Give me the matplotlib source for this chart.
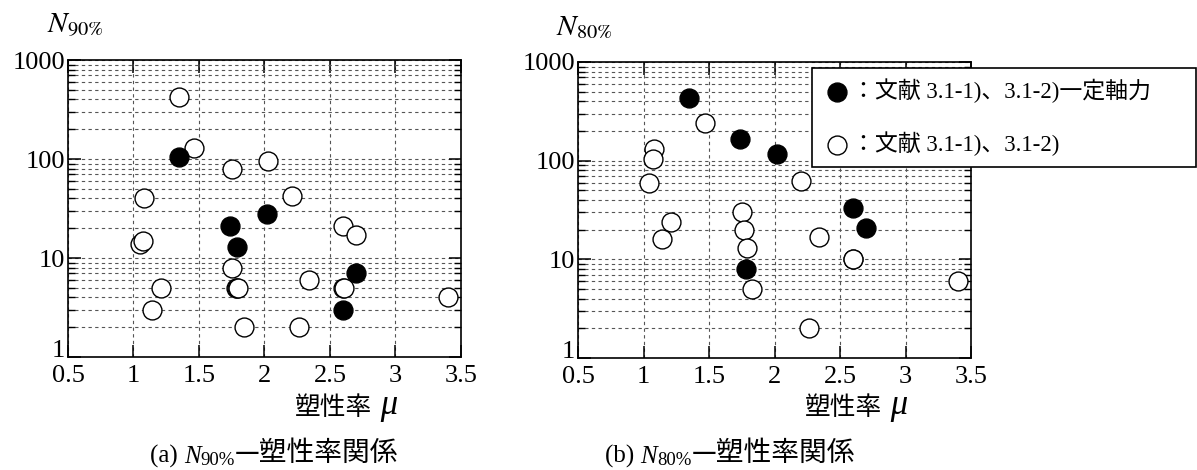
import matplotlib
matplotlib.use("Agg")
import matplotlib.pyplot as plt
from matplotlib.ticker import LogLocator, NullFormatter, FixedLocator

plt.rcParams['font.family'] = ['Liberation Serif', 'Noto Sans CJK JP']

# (a) N90% - ductility
a_fill_mu = [1.35, 1.74, 1.79, 2.02, 2.70, 2.60]
a_fill_n = [105, 21, 13, 28, 7, 3]
a_open_mu = [1.35, 1.46, 1.75, 2.03, 2.21, 1.08, 1.05, 1.07, 1.75, 1.78, 1.79,
             1.80, 1.21, 1.14, 1.84, 2.26, 2.34, 2.60, 2.70, 2.60, 2.61, 3.40]
a_open_n = [420, 130, 80, 95, 42, 40, 14, 15, 8, 5, 5,
            5, 5, 3, 2, 2, 6, 21, 17, 5, 5, 4]

# (b) N80% - ductility
b_fill_mu = [1.35, 1.74, 2.02, 2.60, 2.70, 1.78]
b_fill_n = [430, 165, 118, 33, 21, 8]
b_open_mu = [1.47, 1.08, 1.07, 1.04, 2.20, 1.21, 1.14, 1.75, 1.77, 1.79,
             1.83, 2.34, 2.60, 2.60, 2.26, 3.40]
b_open_n = [240, 130, 105, 60, 62, 24, 16, 30, 20, 13,
            5, 17, 10, 10, 2, 6]

xticks = [0.5, 1, 1.5, 2, 2.5, 3, 3.5]
xtick_labels = ['0.5', '1', '1.5', '2', '2.5', '3', '3.5']
yticks = [1, 10, 100, 1000]
ytick_labels = ['1', '10', '100', '1000']

label_fill = '：文献 3.1-1)、3.1-2)一定軸力'
label_open = '：文献 3.1-1)、3.1-2)'

SERIF = 'Liberation Serif'
CJK = 'Noto Sans CJK JP'

fig = plt.figure(figsize=(11.97, 4.70), dpi=100)
ax1 = fig.add_axes([0.0568, 0.2404, 0.3283, 0.6319])
ax2 = fig.add_axes([0.4829, 0.2383, 0.3283, 0.6298])


def style_axes(ax):
    ax.set_yscale('log')
    ax.set_xlim(0.5, 3.5)
    ax.set_ylim(1, 1000)
    ax.set_xticks(xticks)
    ax.set_xticklabels(xtick_labels)
    ax.set_yticks(yticks)
    ax.set_yticklabels(ytick_labels)
    ax.yaxis.set_minor_locator(LogLocator(base=10, subs=range(2, 10)))
    ax.yaxis.set_minor_formatter(NullFormatter())
    ax.xaxis.set_minor_locator(FixedLocator([]))
    ax.tick_params(axis='both', which='major', direction='in', top=True,
                   right=True, labelsize=19, length=9, width=1.1,
                   colors='black')
    ax.tick_params(axis='x', which='major', pad=6)
    ax.tick_params(axis='y', which='major', pad=2)
    ax.tick_params(axis='y', which='minor', direction='in', left=True,
                   right=True, length=5, width=1.0)
    ax.get_yticklabels()[0].set_va('baseline')
    ax.grid(True, which='major', axis='x', linestyle=(0, (3, 3)),
            color='#555555', linewidth=0.8)
    ax.grid(True, which='both', axis='y', linestyle=(0, (3, 3)),
            color='#555555', linewidth=0.8)
    ax.set_axisbelow(True)
    for sp in ax.spines.values():
        sp.set_linewidth(1.2)
        sp.set_color('black')


def rich_text(x_px, y_px, pieces):
    # pieces: (text, family, size, style, dy in points); chained left to right
    prev = None
    for text, family, size, style, dy in pieces:
        if prev is None:
            prev = ax1.annotate(text, xy=(x_px, y_px), xycoords='figure pixels',
                                xytext=(0, dy), textcoords='offset points',
                                family=family, fontsize=size, fontstyle=style,
                                ha='left', va='bottom', annotation_clip=False)
        else:
            prev = ax1.annotate(text, xy=(1, 0), xycoords=prev,
                                xytext=(0, dy), textcoords='offset points',
                                family=family, fontsize=size, fontstyle=style,
                                ha='left', va='bottom', annotation_clip=False)


style_axes(ax1)
style_axes(ax2)

ms = 185
ax1.scatter(a_open_mu, a_open_n, s=ms, facecolors='white', edgecolors='black',
            linewidths=1.0, zorder=3)
ax1.scatter(a_fill_mu, a_fill_n, s=ms, facecolors='black', edgecolors='black',
            linewidths=1.0, zorder=4)
h_open = ax2.scatter(b_open_mu, b_open_n, s=ms, facecolors='white',
                     edgecolors='black', linewidths=1.0, zorder=3)
h_fill = ax2.scatter(b_fill_mu, b_fill_n, s=ms, facecolors='black',
                     edgecolors='black', linewidths=1.0, zorder=4)

leg = fig.legend([h_fill, h_open], [label_fill, label_open],
                 loc='upper left', bbox_to_anchor=(0.6784, 0.8553, 0.3208, 0.0),
                 mode='expand', fontsize=16.5, frameon=True, fancybox=False,
                 framealpha=1, edgecolor='black', borderpad=0.45,
                 labelspacing=1.25, handletextpad=0.0, handlelength=1.3,
                 borderaxespad=0)
leg.get_frame().set_linewidth(1.2)
leg.set_zorder(10)

# axis titles
fig.text(0.0393, 0.930, r'$N_{\mathrm{90\%}}$', fontsize=21, va='baseline',
         math_fontfamily='stix')
fig.text(0.4645, 0.926, r'$N_{\mathrm{80\%}}$', fontsize=21, va='baseline',
         math_fontfamily='stix')

# x labels (塑性率 μ), positioned from their left edge in pixels
for x0 in (295, 805):
    rich_text(x0, 470 - 421, [('塑性率', CJK, 18.5, 'normal', 0),
                              (' μ', SERIF, 25, 'italic', -1)])

# captions
rich_text(150, 470 - 468, [('(a) ', SERIF, 18, 'normal', 0),
                           ('N', SERIF, 18, 'italic', 0),
                           ('90%', SERIF, 13.5, 'normal', -1),
                           ('—塑性率関係', CJK, 20, 'normal', 1)])
rich_text(605, 470 - 468, [('(b) ', SERIF, 18, 'normal', 0),
                           ('N', SERIF, 18, 'italic', 0),
                           ('80%', SERIF, 13.5, 'normal', -1),
                           ('—塑性率関係', CJK, 20, 'normal', 1)])

fig.savefig('out.png', dpi=100)
